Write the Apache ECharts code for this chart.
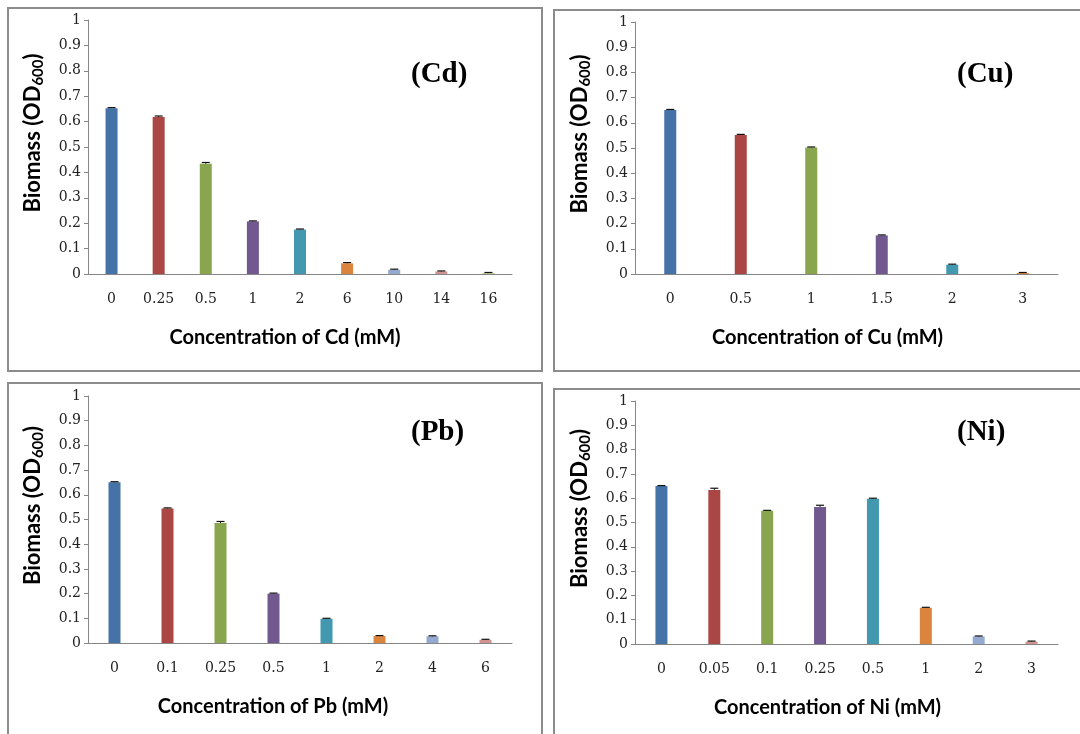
<!DOCTYPE html>
<html>
<head>
<meta charset="utf-8">
<title>Biomass under heavy metals</title>
<script src="https://cdn.jsdelivr.net/npm/echarts@6/dist/echarts.min.js"></script>
<style>
  html, body { margin: 0; padding: 0; background: #fff; }
  #chart { width: 1080px; height: 734px; }
</style>
</head>
<body>
<div id="chart"></div>
<script>
// data
var cdLabels = ['0', '0.25', '0.5', '1', '2', '6', '10', '14', '16'];
var cdValues = [0.653, 0.618, 0.434, 0.207, 0.175, 0.042, 0.017, 0.010, 0.004];
var cdErrors = [0.002, 0.004, 0.005, 0.002, 0.002, 0.003, 0.002, 0.002, 0.002];

var cuLabels = ['0', '0.5', '1', '1.5', '2', '3'];
var cuValues = [0.651, 0.552, 0.502, 0.153, 0.037, 0.004];
var cuErrors = [0.002, 0.002, 0.002, 0.002, 0.002, 0.002];

var pbLabels = ['0', '0.1', '0.25', '0.5', '1', '2', '4', '6'];
var pbValues = [0.651, 0.545, 0.486, 0.200, 0.098, 0.028, 0.027, 0.013];
var pbErrors = [0.002, 0.002, 0.006, 0.002, 0.002, 0.002, 0.002, 0.002];

var niLabels = ['0', '0.05', '0.1', '0.25', '0.5', '1', '2', '3'];
var niValues = [0.650, 0.634, 0.548, 0.564, 0.598, 0.149, 0.031, 0.010];
var niErrors = [0.002, 0.007, 0.002, 0.007, 0.002, 0.002, 0.002, 0.002];

var yTicks = { min: 0, max: 1, interval: 0.1 };

// excel 2007 palette
var palette = ['#4572a7', '#aa4643', '#89a54e', '#71588f', '#4198af', '#db843d', '#93a9cf', '#d19392', '#b9cd96'];

// shift = how far the x title sits left of the plot centre
var panels = [
  { tag: '(Cd)', metal: 'Cd', labels: cdLabels, values: cdValues, errors: cdErrors, shift: 15,
    grid: { left: 88, top: 20, width: 424, height: 254 }, tagPos: [411, 60], box: [8, 8, 534, 363] },
  { tag: '(Cu)', metal: 'Cu', labels: cuLabels, values: cuValues, errors: cuErrors, shift: 19,
    grid: { left: 635, top: 22, width: 423, height: 252 }, tagPos: [957, 60], box: [554, 10, 540, 361] },
  { tag: '(Pb)', metal: 'Pb', labels: pbLabels, values: pbValues, errors: pbErrors, shift: 27,
    grid: { left: 88, top: 396, width: 424, height: 247 }, tagPos: [411, 418], box: [8, 383, 534, 370] },
  { tag: '(Ni)', metal: 'Ni', labels: niLabels, values: niValues, errors: niErrors, shift: 19,
    grid: { left: 635, top: 401, width: 423, height: 243 }, tagPos: [957, 418], box: [554, 389, 540, 370] }
];

var axisColor = '#868686';
var serif = '"Liberation Serif", "DejaVu Serif", serif';
var tickFont = '"DejaVu Serif", serif';
var sans = 'Lato, "Open Sans", sans-serif';

function errorBar(params, api) {
  var x = api.value(0);
  var top = api.coord([x, api.value(1) + api.value(2)]);
  var mid = api.coord([x, api.value(1)]);
  return {
    type: 'group',
    children: [
      { type: 'line', shape: { x1: mid[0], y1: mid[1], x2: top[0], y2: top[1] },
        style: { stroke: '#111', lineWidth: 1 } },
      { type: 'line', shape: { x1: top[0] - 4, y1: top[1], x2: top[0] + 4, y2: top[1] },
        style: { stroke: '#111', lineWidth: 1.2 } }
    ]
  };
}

var grids = [], xAxes = [], yAxes = [], series = [], titles = [], boxes = [];

panels.forEach(function (p, i) {
  grids.push({ left: p.grid.left, top: p.grid.top, width: p.grid.width, height: p.grid.height,
               containLabel: false, outerBoundsMode: 'none' });

  xAxes.push({
    type: 'category', gridIndex: i, data: p.labels,
    name: 'Concentration of ' + p.metal + ' (mM)',
    nameLocation: 'middle', nameGap: 54,
    nameTextStyle: { fontFamily: sans, fontWeight: 'bold', fontSize: 20, color: '#000',
                     padding: [0, p.shift * 2, 0, 0] },
    axisLine: { lineStyle: { color: axisColor, width: 1 } },
    axisTick: { length: 5, lineStyle: { color: axisColor } },
    axisLabel: { margin: 18, fontFamily: tickFont, fontSize: 14, color: '#222' }
  });

  yAxes.push({
    type: 'value', gridIndex: i, min: yTicks.min, max: yTicks.max, interval: yTicks.interval,
    name: '{a|Biomass (OD}{s|600}{a|)}',
    nameLocation: 'middle', nameGap: 42, nameRotate: 90,
    nameTextStyle: {
      padding: [0, 0, 0, 28],
      rich: {
        a: { fontFamily: sans, fontWeight: 'bold', fontSize: 22, color: '#000', lineHeight: 26 },
        s: { fontFamily: sans, fontWeight: 'bold', fontSize: 15, color: '#000', lineHeight: 26,
             verticalAlign: 'bottom' }
      }
    },
    splitLine: { show: false },
    axisLine: { show: true, lineStyle: { color: axisColor, width: 1 } },
    axisTick: { show: true, length: 4, lineStyle: { color: axisColor } },
    axisLabel: { margin: 7, fontFamily: tickFont, fontSize: 14, color: '#222' }
  });

  series.push({
    type: 'bar', xAxisIndex: i, yAxisIndex: i, barWidth: 12,
    data: p.values.map(function (v, k) {
      return { value: v, itemStyle: { color: palette[k % palette.length] } };
    })
  });

  series.push({
    type: 'custom', xAxisIndex: i, yAxisIndex: i, renderItem: errorBar, z: 5,
    data: p.values.map(function (v, k) { return [k, v, p.errors[k]]; })
  });

  titles.push({
    text: p.tag, left: p.tagPos[0], top: p.tagPos[1], padding: 0,
    textStyle: { fontFamily: serif, fontWeight: 'bold', fontSize: 29, color: '#000' }
  });

  boxes.push({
    type: 'rect', silent: true,
    shape: { x: p.box[0], y: p.box[1], width: p.box[2], height: p.box[3] },
    style: { fill: 'none', stroke: '#8c8c8c', lineWidth: 2 }
  });
});

var myChart = echarts.init(document.getElementById('chart'), null, { renderer: 'canvas' });
myChart.setOption({
  animation: false,
  backgroundColor: '#fff',
  title: titles,
  grid: grids,
  xAxis: xAxes,
  yAxis: yAxes,
  series: series,
  graphic: boxes
});
</script>
</body>
</html>
